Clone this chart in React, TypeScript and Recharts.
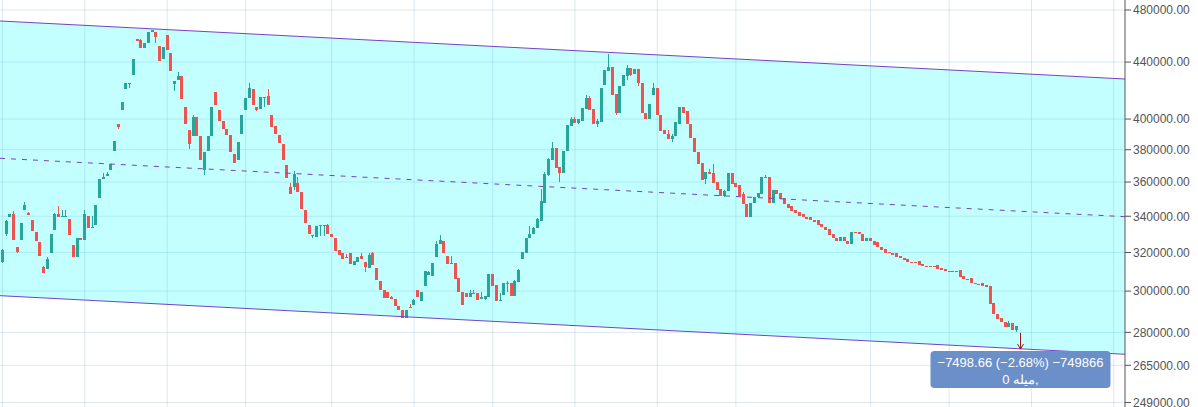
import { Area, Bar, CartesianGrid, Cell, ComposedChart, Line, ReferenceLine, XAxis, YAxis } from "recharts";

// daily bars, [open, high, low, close] in thousands
const BARS: [number, number, number, number][] = [
  [315.0, 322.0, 314.5, 321.6], [329.8, 338.0, 329.0, 337.2], [339.3, 341.5, 339.3, 341.5], [341.5, 343.2, 327.0, 327.0],
  [322.7, 322.7, 319.5, 320.5], [327.0, 336.4, 327.0, 336.4], [343.8, 348.0, 343.8, 346.7], [341.8, 342.5, 340.6, 340.6],
  [337.6, 338.1, 331.9, 331.9], [331.4, 331.4, 326.4, 326.4], [325.4, 325.4, 318.4, 318.4], [312.1, 313.0, 309.0, 309.0],
  [311.1, 317.5, 311.1, 316.8], [319.5, 329.8, 319.5, 329.8], [332.5, 342.0, 332.5, 341.5], [341.5, 346.0, 339.3, 339.3],
  [339.8, 343.8, 339.8, 340.0], [339.8, 343.8, 339.8, 340.0], [338.7, 338.7, 329.3, 329.3], [324.3, 324.3, 317.6, 317.6],
  [317.6, 328.1, 317.6, 328.1], [328.1, 328.1, 327.0, 327.0], [327.0, 343.8, 327.0, 341.0], [340.4, 340.4, 333.6, 333.6],
  [333.6, 340.0, 333.6, 334.0], [335.3, 346.7, 335.3, 346.7], [350.3, 361.6, 350.3, 361.6], [361.6, 365.6, 361.6, 363.3],
  [363.5, 366.0, 363.5, 364.6], [367.6, 371.3, 367.6, 371.3], [379.5, 385.6, 379.5, 385.6],
  [397.0, 397.0, 393.1, 394.4], [405.8, 411.6, 405.8, 411.6], [420.9, 424.9, 420.9, 424.9], [424.5, 425.0, 421.5, 425.0],
  [430.9, 442.6, 430.9, 442.6], [457.6, 457.6, 456.1, 456.1], [456.9, 457.6, 450.1, 450.1], [450.8, 454.6, 450.8, 454.6],
  [454.6, 463.0, 454.6, 463.0], [463.0, 464.6, 462.5, 464.2], [462.9, 462.9, 454.6, 459.2], [452.2, 452.2, 441.1, 441.1],
  [441.9, 451.5, 441.9, 451.5], [460.7, 460.7, 449.3, 449.3], [446.4, 446.4, 433.8, 433.8], [423.8, 426.0, 419.0, 426.0],
  [426.7, 432.5, 426.7, 430.2], [430.2, 430.2, 413.3, 413.3], [408.4, 408.4, 396.4, 396.4], [392.5, 392.5, 380.2, 383.4],
  [388.5, 402.4, 388.5, 401.7], [401.7, 401.7, 388.5, 388.5], [388.5, 388.5, 373.8, 373.8], [367.6, 378.3, 364.0, 378.3],
  [379.5, 388.5, 379.5, 388.5], [388.5, 408.4, 388.5, 408.4], [418.2, 418.2, 409.8, 409.8], [406.4, 406.4, 399.0, 399.0],
  [399.0, 399.0, 393.1, 393.1], [393.7, 393.7, 389.2, 389.2], [389.2, 389.2, 378.3, 378.3], [377.0, 377.0, 371.9, 371.9],
  [373.8, 384.7, 373.8, 384.7], [390.4, 403.0, 390.4, 403.0], [406.4, 414.0, 406.4, 414.0], [414.0, 424.5, 414.0, 421.5],
  [420.9, 420.9, 409.8, 409.8], [408.4, 408.4, 405.4, 406.4], [407.0, 414.7, 407.0, 414.7], [414.5, 415.1, 408.0, 415.1],
  [415.4, 420.3, 409.2, 409.2], [402.4, 402.4, 394.4, 394.4], [395.1, 395.1, 389.8, 389.8], [389.2, 389.2, 384.1, 384.1],
  [383.4, 383.4, 373.8, 373.8], [370.7, 370.7, 362.2, 362.2],
  [357.3, 359.7, 352.6, 352.6], [357.3, 367.0, 355.0, 364.6], [359.7, 362.8, 353.8, 353.8], [354.2, 354.2, 344.4, 344.4],
  [343.8, 343.8, 336.4, 336.4], [335.3, 335.3, 330.3, 330.3], [329.0, 329.4, 328.1, 329.4], [328.6, 334.7, 328.6, 334.7],
  [334.5, 334.9, 329.0, 334.9], [334.5, 334.9, 329.0, 334.9], [335.3, 335.8, 329.8, 329.8], [330.3, 330.3, 328.6, 328.6],
  [327.6, 327.6, 321.0, 321.0], [321.6, 321.6, 318.9, 318.9], [319.5, 320.0, 316.3, 316.3], [317.8, 319.0, 317.2, 317.2],
  [320.0, 320.0, 313.7, 313.7], [313.2, 315.3, 313.2, 315.3], [314.7, 317.8, 314.7, 317.8], [318.4, 320.0, 316.3, 316.3],
  [314.7, 314.7, 309.6, 312.1], [311.6, 319.5, 311.6, 318.9], [319.5, 320.5, 313.2, 313.2], [311.6, 311.6, 305.4, 305.4],
  [304.9, 304.9, 300.8, 300.8], [300.8, 300.8, 296.8, 296.8], [299.3, 299.3, 296.8, 296.8], [297.3, 297.8, 296.3, 296.3],
  [296.3, 296.3, 292.4, 292.4], [292.4, 292.4, 290.6, 290.6], [290.9, 290.9, 287.0, 287.0], [287.0, 290.6, 287.0, 290.6],
  [292.2, 293.8, 291.4, 291.4], [292.9, 296.3, 292.9, 295.8], [300.8, 300.8, 297.3, 297.3], [295.3, 299.8, 295.3, 299.8],
  [302.4, 310.0, 302.4, 310.0], [308.0, 310.0, 308.0, 309.5], [307.5, 314.2, 307.5, 314.2], [317.8, 326.0, 317.8, 324.8],
  [324.8, 329.3, 324.8, 327.0], [326.4, 326.4, 319.5, 319.5], [318.4, 318.4, 313.7, 313.7], [313.7, 318.4, 313.7, 314.2],
  [314.2, 314.2, 305.9, 305.9], [306.4, 306.4, 299.3, 299.3], [299.8, 299.8, 293.0, 293.0], [298.8, 298.8, 297.3, 297.3],
  [297.3, 300.8, 297.3, 298.8], [298.6, 300.8, 298.6, 298.8], [298.8, 298.8, 295.8, 295.8], [296.3, 299.3, 296.3, 297.3],
  [296.3, 297.8, 295.8, 297.8], [297.3, 308.5, 297.3, 308.5], [308.5, 308.5, 302.4, 302.4], [302.9, 302.9, 295.3, 295.3],
  [295.3, 298.8, 295.3, 295.8], [298.3, 303.9, 298.3, 303.9], [303.6, 305.0, 299.3, 303.9], [303.9, 303.9, 297.8, 297.8],
  [297.8, 305.4, 297.8, 304.9], [304.4, 311.1, 304.4, 310.6], [316.8, 320.5, 316.8, 320.5], [320.0, 327.6, 320.0, 327.6],
  [327.6, 334.7, 327.6, 330.3],
  [330.3, 334.0, 330.3, 333.6], [333.6, 339.0, 333.6, 338.7], [337.2, 356.0, 337.2, 348.5], [347.9, 366.0, 347.9, 364.6],
  [364.0, 375.0, 363.5, 374.4], [373.8, 384.7, 373.8, 381.4], [381.4, 381.4, 368.8, 368.8], [369.4, 369.4, 360.0, 365.8],
  [365.8, 379.5, 365.8, 379.5], [379.5, 395.8, 379.5, 395.8], [395.1, 401.7, 395.1, 400.3], [400.3, 401.7, 397.6, 397.6],
  [397.6, 400.3, 396.4, 399.7], [399.0, 407.7, 399.0, 407.7], [407.0, 416.2, 407.0, 414.0], [414.0, 415.5, 406.4, 406.4],
  [407.0, 407.0, 396.4, 396.4], [396.4, 399.7, 395.0, 399.0], [398.3, 421.0, 398.3, 421.0], [423.1, 434.5, 423.1, 434.5],
  [433.8, 446.3, 433.8, 436.6], [436.6, 436.6, 416.2, 416.2], [416.8, 416.8, 402.4, 404.4], [404.4, 422.4, 404.4, 422.4],
  [422.4, 430.9, 422.4, 430.9], [430.2, 437.5, 427.0, 436.0], [436.0, 436.0, 429.5, 430.9], [431.6, 435.2, 431.6, 435.2],
  [435.2, 435.2, 422.4, 424.5], [424.5, 424.5, 404.4, 404.4], [404.4, 404.4, 400.3, 400.3], [400.3, 410.5, 400.3, 410.5],
  [416.2, 425.2, 416.2, 421.0], [421.0, 421.0, 403.0, 403.0], [402.4, 402.4, 391.8, 391.8], [392.5, 392.5, 389.8, 389.8],
  [390.4, 392.5, 386.6, 386.6], [386.6, 390.4, 384.7, 388.5], [388.5, 397.7, 388.5, 397.7], [397.0, 408.4, 397.0, 408.4],
  [408.4, 408.4, 404.4, 404.4], [405.1, 405.1, 396.4, 396.4], [396.4, 396.4, 387.2, 387.2], [387.2, 387.2, 378.3, 378.3],
  [378.3, 378.3, 371.3, 371.3], [371.9, 371.9, 361.0, 361.0], [361.6, 366.4, 359.0, 366.4], [366.4, 368.2, 364.6, 364.6],
  [365.2, 371.0, 359.7, 359.7], [360.3, 360.3, 355.5, 355.5], [356.1, 356.1, 351.5, 352.0], [352.0, 355.5, 350.9, 354.9],
  [354.4, 365.2, 354.4, 365.2], [365.2, 365.8, 359.1, 359.1], [359.7, 359.7, 357.3, 357.3], [358.5, 358.5, 352.0, 352.0],
  [352.6, 353.8, 347.3, 347.3], [347.3, 347.3, 339.3, 339.3], [339.3, 347.9, 339.3, 347.9], [347.9, 350.9, 347.9, 350.9],
  [350.9, 353.2, 350.9, 353.2], [352.6, 362.8, 352.6, 362.8], [362.4, 364.0, 362.4, 362.8], [362.8, 362.8, 347.9, 347.9],
  [347.9, 355.5, 347.9, 355.5], [355.5, 355.5, 352.6, 352.6], [353.2, 353.2, 349.7, 349.7], [350.3, 350.3, 347.3, 347.3],
  [347.3, 347.3, 344.9, 344.9], [345.6, 345.6, 343.2, 343.2], [343.8, 343.8, 342.1, 342.1], [342.7, 342.7, 340.4, 340.4],
  [341.0, 341.0, 339.3, 339.3], [339.8, 339.8, 338.7, 338.7], [339.3, 339.3, 338.1, 338.1], [338.1, 338.1, 337.0, 337.0],
  [338.1, 338.1, 335.3, 335.3], [335.8, 335.8, 334.2, 334.2], [334.2, 334.2, 332.5, 332.5], [333.0, 333.0, 329.3, 329.3],
  [329.8, 329.8, 327.6, 327.6], [328.1, 328.1, 326.4, 326.4], [326.4, 328.6, 326.4, 328.6], [328.6, 328.6, 326.0, 326.0],
  [326.4, 326.4, 324.8, 324.8], [324.8, 331.4, 324.8, 330.9], [331.0, 331.0, 330.5, 330.5], [330.9, 330.9, 329.8, 329.8],
  [330.3, 330.3, 326.4, 326.4], [326.4, 328.1, 326.4, 328.1], [328.1, 328.1, 326.0, 326.0], [326.4, 326.4, 324.3, 324.3],
  [325.4, 325.4, 322.7, 322.7], [323.2, 323.2, 321.6, 321.6], [322.1, 322.1, 320.0, 320.0], [320.5, 320.5, 319.5, 319.5],
  [320.0, 320.0, 318.9, 318.9], [319.5, 319.5, 317.8, 317.8], [318.4, 318.4, 317.2, 317.2], [317.2, 317.2, 315.8, 315.8],
  [316.3, 316.3, 314.7, 314.7], [315.0, 315.0, 314.5, 314.5], [314.7, 314.7, 314.5, 314.5], [315.3, 315.3, 313.2, 313.2],
  [313.7, 313.7, 312.6, 312.6], [313.0, 313.0, 312.6, 312.6], [312.8, 312.8, 312.4, 312.4], [312.7, 312.7, 312.4, 312.4],
  [313.2, 313.2, 311.1, 311.1], [311.6, 311.6, 310.6, 310.6], [311.1, 311.1, 310.0, 310.0], [310.4, 310.4, 310.0, 310.0],
  [310.3, 310.3, 310.0, 310.0], [310.0, 310.3, 310.0, 310.3], [310.6, 310.6, 307.0, 307.0], [307.5, 307.5, 305.9, 305.9],
  [306.2, 306.2, 305.7, 305.7], [306.4, 306.4, 303.9, 303.9], [303.9, 303.9, 303.4, 303.4], [303.6, 303.6, 303.4, 303.4],
  [303.9, 303.9, 302.4, 302.4], [302.9, 302.9, 302.0, 302.0], [302.4, 302.4, 293.8, 293.8], [294.3, 294.3, 288.5, 288.5],
  [288.9, 288.9, 286.1, 286.1], [286.6, 286.6, 284.7, 284.7], [285.1, 285.1, 282.4, 282.4], [282.4, 285.6, 282.4, 284.2],
  [284.2, 284.2, 281.0, 281.0], [281.0, 283.2, 280.0, 282.8],
];

// bar index of each month start (vertical grid)
const MONTH_STARTS = [0, 22, 44, 65, 88, 110, 131, 153, 175, 196, 232, 253, 275, 297];
const PRICE_TICKS = [249000, 265000, 280000, 300000, 320000, 340000, 360000, 380000, 400000, 440000, 480000];

// regression channel, two end points (bar index)
const CHANNEL_X = [-0.67, 300];
const CHANNEL_UPPER = [471260, 427700];
const CHANNEL_MID = [374590, 339750];
const CHANNEL_LOWER = [297720, 269930];

const MEASURE_BAR = 272;
const MEASURE_FROM = 279800;
const MEASURE_TO = 272300;
const MEASURE_TEXT = ["−7498.66 (−2.68%) −749866", "0 میله,"];

const GREEN = "#26a69a";
const RED = "#ef5350";
const PURPLE = "#7442c8";

const candleRows = BARS.map(([o, h, l, c], i) => ({
  x: i,
  wick: [l * 1000, h * 1000],
  body: [Math.min(o, c) * 1000, Math.max(o, c) * 1000],
  up: c >= o,
}));

const channelRows = CHANNEL_X.map((x, i) => ({
  x,
  band: [CHANNEL_LOWER[i], CHANNEL_UPPER[i]],
  upper: CHANNEL_UPPER[i],
  mid: CHANNEL_MID[i],
  lower: CHANNEL_LOWER[i],
}));

const data: any[] = [channelRows[0], ...candleRows, channelRows[1]];

function Wick(props: any) {
  const { x, y, width, height, fill, payload } = props;
  if (!payload || payload.wick == null || !Number.isFinite(y)) return <g />;
  const left = Math.round(x + width / 2 - 1.5) + 1;
  const top = Math.round(y);
  const h = Math.max(1, Math.round(y + height) - top);
  return <rect x={left} y={top} width={1} height={h} fill={fill} />;
}

function Body(props: any) {
  const { x, y, width, height, fill, payload } = props;
  if (!payload || payload.body == null || !Number.isFinite(y)) return <g />;
  const left = Math.round(x + width / 2 - 1.5);
  const top = Math.round(y);
  const h = Math.max(1, Math.round(y + height) - top);
  return <rect x={left} y={top} width={3} height={h} fill={fill} />;
}

function MeasureArrow(props: any) {
  const { x1, y1, x2, y2 } = props;
  if (!Number.isFinite(x1)) return <g />;
  const cx = Math.round(x1) + 0.5;
  return (
    <g>
      <line x1={cx} y1={y1} x2={cx} y2={y2} stroke="#9b1717" strokeWidth={1} />
      <polyline points={`${cx - 3},${y2 - 5} ${cx},${y2} ${cx + 3},${y2 - 5}`} fill="none" stroke="#9b1717" strokeWidth={1} />
      <rect x={cx - 90} y={y2 + 2} width={180} height={37} rx={4} fill="#6b8fc9" />
      <text x={cx} y={y2 + 13} textAnchor="middle" dominantBaseline="central" fill="#fff" fontSize={13}>
        {MEASURE_TEXT[0]}
      </text>
      <text x={cx} y={y2 + 30} textAnchor="middle" dominantBaseline="central" fill="#fff" fontSize={13}>
        {MEASURE_TEXT[1]}
      </text>
    </g>
  );
}

export default function App() {
  return (
    <div style={{ width: 1198, height: 407, fontFamily: "'Liberation Sans', Arial, sans-serif" }}>
      <style>{"body{margin:0}"}</style>
      <ComposedChart width={1198} height={407} data={data} margin={{ top: 0, right: 0, bottom: 0, left: 0 }}>
        <CartesianGrid xAxisId="main" stroke="#dce9f1" strokeWidth={1} vertical={false} horizontalValues={PRICE_TICKS} />
        <XAxis
          xAxisId="main"
          dataKey="x"
          type="number"
          domain={[-0.67, 300]}
          allowDataOverflow
          tick={false}
          tickLine={false}
          axisLine={false}
          height={0}
        />
        <XAxis xAxisId="body" dataKey="x" type="number" domain={[-0.67, 300]} allowDataOverflow hide />
        <YAxis
          orientation="right"
          scale="log"
          domain={[247150, 488100]}
          allowDataOverflow
          ticks={PRICE_TICKS}
          interval={0}
          width={73}
          axisLine={{ stroke: "#555" }}
          tickLine={{ stroke: "#555" }}
          tick={{ fill: "#555", fontSize: 12 }}
          tickFormatter={(v: number) => v.toFixed(2)}
        />
        <Area
          xAxisId="main"
          dataKey="band"
          type="linear"
          connectNulls
          stroke="none"
          fill="#00ffff"
          fillOpacity={0.23}
          dot={false}
          activeDot={false}
          isAnimationActive={false}
        />
        {MONTH_STARTS.map((m) => (
          <ReferenceLine key={m} xAxisId="main" x={m} stroke="#5091b9" strokeOpacity={0.2} strokeWidth={1} />
        ))}
        <Bar xAxisId="main" dataKey="wick" barSize={3} shape={Wick} isAnimationActive={false}>
          {data.map((d, i) => (
            <Cell key={i} fill={d.up ? GREEN : RED} />
          ))}
        </Bar>
        <Bar xAxisId="body" dataKey="body" barSize={3} shape={Body} isAnimationActive={false}>
          {data.map((d, i) => (
            <Cell key={i} fill={d.up ? GREEN : RED} />
          ))}
        </Bar>
        <Line xAxisId="main" dataKey="upper" type="linear" stroke={PURPLE} strokeWidth={1} dot={false} activeDot={false} connectNulls isAnimationActive={false} />
        <Line xAxisId="main" dataKey="lower" type="linear" stroke={PURPLE} strokeWidth={1} dot={false} activeDot={false} connectNulls isAnimationActive={false} />
        <Line
          xAxisId="main"
          dataKey="mid"
          type="linear"
          stroke={PURPLE}
          strokeWidth={1}
          strokeDasharray="5 6"
          dot={false}
          activeDot={false}
          connectNulls
          isAnimationActive={false}
        />
        <ReferenceLine
          xAxisId="main"
          segment={[
            { x: MEASURE_BAR, y: MEASURE_FROM },
            { x: MEASURE_BAR, y: MEASURE_TO },
          ]}
          ifOverflow="visible"
          shape={MeasureArrow}
        />
      </ComposedChart>
    </div>
  );
}
